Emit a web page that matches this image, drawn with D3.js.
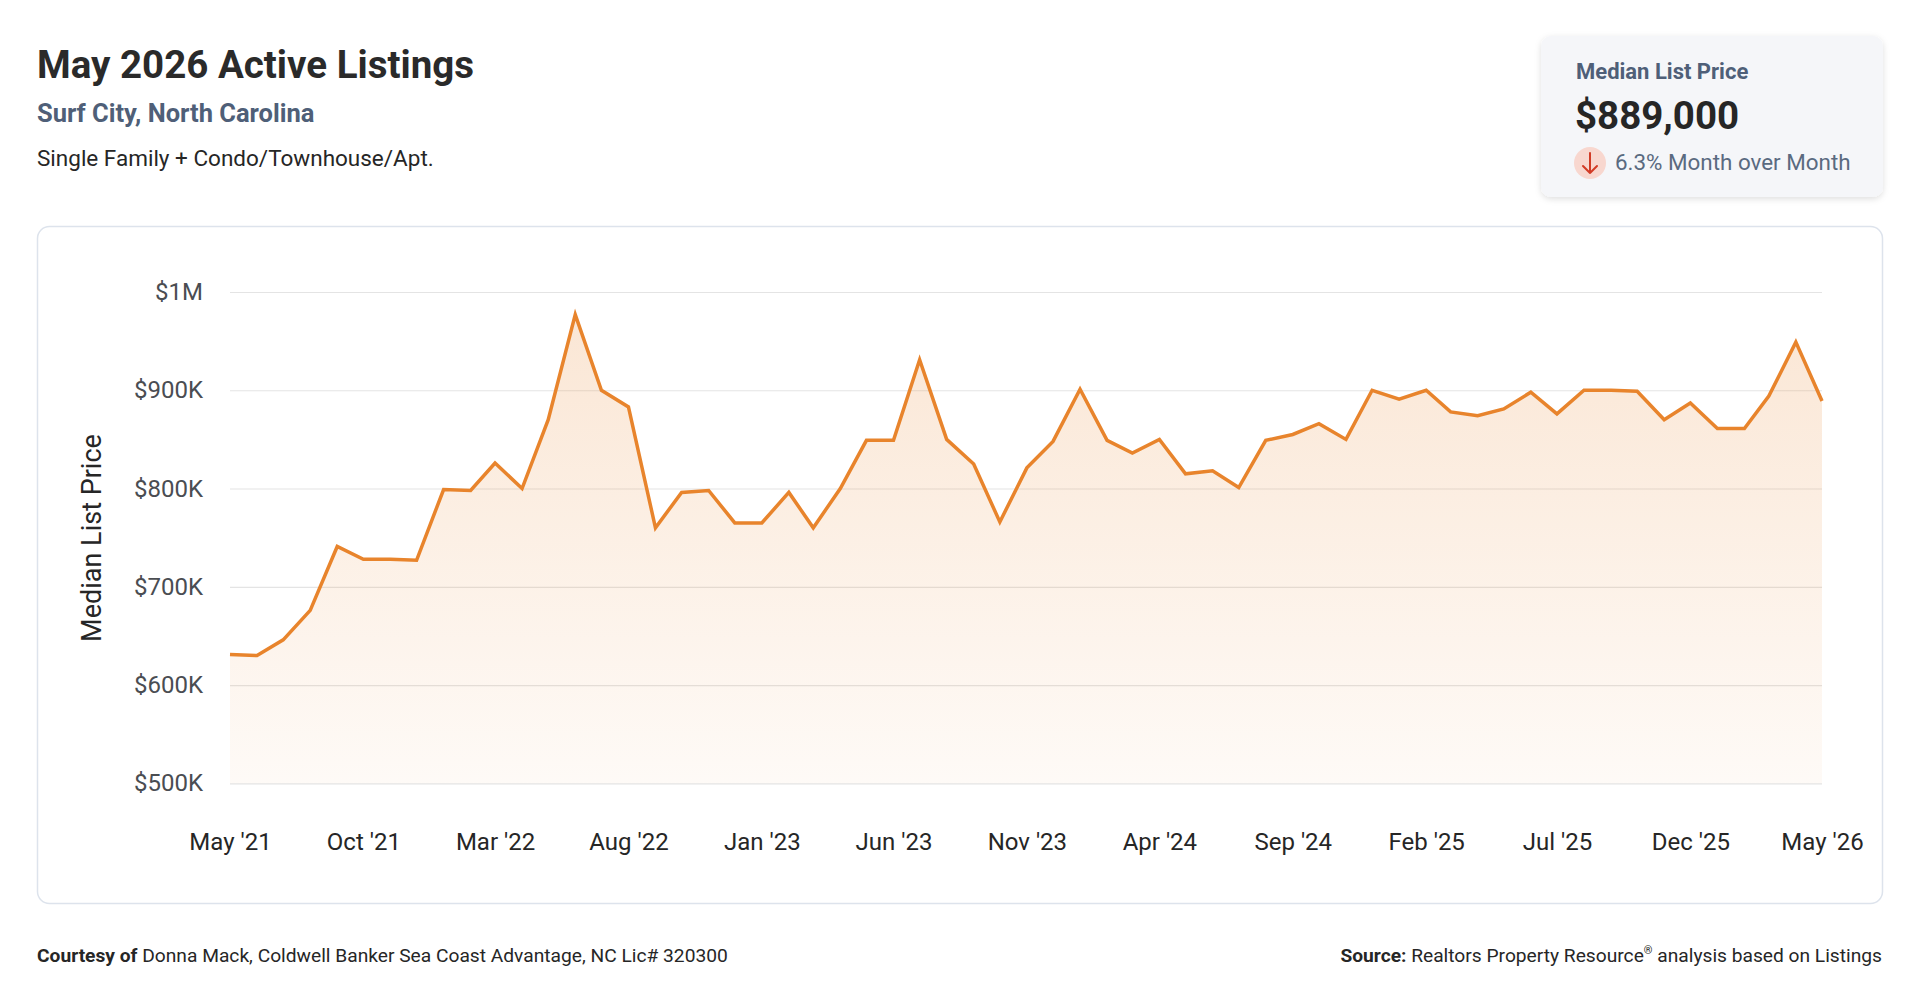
<!DOCTYPE html>
<html>
<head>
<meta charset="utf-8">
<script src="https://cdn.jsdelivr.net/npm/d3@7"></script>
<style>
  html, body { margin: 0; padding: 0; background: #ffffff; }
  svg { display: block; font-family: Roboto, "Noto Sans", sans-serif; }
</style>
</head>
<body>
<script>
var width = 1920;
var height = 1008;
var lineColor = "#e8842c";
var textColor = "#262626";
var slateColor = "#4f5f78";

// data, first month May 2021, one value per month
var startMonth = new Date(2021, 4, 1);
var medianPrices = [
  631000, 630000, 646000, 676000, 741000, 728000, 728000, 727000, 799000, 798000,
  826000, 800000, 870000, 977000, 900000, 883000, 760000, 796000, 798000, 765000,
  765000, 796000, 760000, 800000, 849000, 849000, 931000, 850000, 825000, 766000,
  821000, 848000, 901000, 849000, 836000, 850000, 815000, 818000, 801000, 849000,
  855000, 866000, 850000, 900000, 891000, 900000, 878000, 874000, 881000, 898000,
  876000, 900000, 900000, 899000, 870000, 887000, 861000, 861000, 894000, 949000,
  889000
];
var xTickLabels = ["May '21", "Oct '21", "Mar '22", "Aug '22", "Jan '23", "Jun '23",
  "Nov '23", "Apr '24", "Sep '24", "Feb '25", "Jul '25", "Dec '25", "May '26"];
var yTickValues = [500000, 600000, 700000, 800000, 900000, 1000000];
var yTickLabels = ["$500K", "$600K", "$700K", "$800K", "$900K", "$1M"];

var data = medianPrices.map(function(v, i) {
  return { date: d3.timeMonth.offset(startMonth, i), value: v };
});
var xTickDates = xTickLabels.map(function(l, i) {
  return d3.timeMonth.offset(startMonth, i * 5);
});

var svg = d3.select("body").append("svg")
  .attr("width", width)
  .attr("height", height);

var defs = svg.append("defs");
var grad = defs.append("linearGradient")
  .attr("id", "areaFill")
  .attr("x1", 0).attr("y1", 0).attr("x2", 0).attr("y2", 1);
grad.append("stop").attr("offset", "0%").attr("stop-color", lineColor).attr("stop-opacity", 0.2);
grad.append("stop").attr("offset", "100%").attr("stop-color", lineColor).attr("stop-opacity", 0.04);

var shadow = defs.append("filter")
  .attr("id", "cardShadow")
  .attr("x", "-10%").attr("y", "-20%").attr("width", "120%").attr("height", "150%");
shadow.append("feDropShadow")
  .attr("dx", 0).attr("dy", 2).attr("stdDeviation", 3)
  .attr("flood-color", "#000").attr("flood-opacity", 0.13);

// header
svg.append("text")
  .attr("x", 37).attr("y", 78)
  .attr("font-size", 38.5).attr("font-weight", 700)
  .attr("fill", "#2a2a2a")
  .text("May 2026 Active Listings");
svg.append("text")
  .attr("x", 37).attr("y", 122)
  .attr("font-size", 25.5).attr("font-weight", 700)
  .attr("fill", slateColor)
  .text("Surf City, North Carolina");
svg.append("text")
  .attr("x", 37).attr("y", 166)
  .attr("font-size", 22.5)
  .attr("fill", textColor)
  .text("Single Family + Condo/Townhouse/Apt.");

// summary card
var card = svg.append("g");
card.append("rect")
  .attr("x", 1541).attr("y", 36)
  .attr("width", 342).attr("height", 161)
  .attr("rx", 10)
  .attr("fill", "#f5f6f9")
  .attr("filter", "url(#cardShadow)");
card.append("text")
  .attr("x", 1576).attr("y", 79)
  .attr("font-size", 22).attr("font-weight", 700)
  .attr("fill", slateColor)
  .text("Median List Price");
card.append("text")
  .attr("x", 1575).attr("y", 129)
  .attr("font-size", 38.5).attr("font-weight", 700)
  .attr("fill", "#262626")
  .text("$" + d3.format(",")(medianPrices[medianPrices.length - 1]));
card.append("circle")
  .attr("cx", 1590).attr("cy", 163).attr("r", 16)
  .attr("fill", "#f8d7cf");
card.append("path")
  .attr("d", "M1590,153 L1590,173 M1583,166 L1590,173 L1597,166")
  .attr("fill", "none")
  .attr("stroke", "#d23b26")
  .attr("stroke-width", 2)
  .attr("stroke-linecap", "round")
  .attr("stroke-linejoin", "round");
var last = medianPrices[medianPrices.length - 1];
var prev = medianPrices[medianPrices.length - 2];
card.append("text")
  .attr("x", 1615).attr("y", 170)
  .attr("font-size", 22.4)
  .attr("fill", "#5a6a80")
  .text(d3.format(".1%")(Math.abs(last - prev) / prev) + " Month over Month");

// chart frame
svg.append("rect")
  .attr("x", 37.5).attr("y", 226.5)
  .attr("width", 1845).attr("height", 677)
  .attr("rx", 12)
  .attr("fill", "#fff")
  .attr("stroke", "#dde3ec")
  .attr("stroke-width", 1.5);

var plotLeft = 230, plotRight = 1822, plotTop = 292, plotBottom = 783.3;

var x = d3.scaleTime()
  .domain(d3.extent(data, function(d) { return d.date; }))
  .range([plotLeft, plotRight]);
var y = d3.scaleLinear()
  .domain([500000, 1000000])
  .range([plotBottom, plotTop]);

// y axis + grid
var yAxis = svg.append("g")
  .attr("transform", "translate(" + plotLeft + ",0)")
  .call(d3.axisLeft(y)
    .tickValues(yTickValues)
    .tickSize(-(plotRight - plotLeft))
    .tickPadding(27)
    .tickFormat(function(d, i) { return yTickLabels[i]; }));
yAxis.select(".domain").remove();
yAxis.selectAll(".tick line")
  .attr("stroke", "#e4e4e4")
  .attr("stroke-width", 1.2);
yAxis.selectAll(".tick text")
  .attr("font-family", "Roboto")
  .attr("font-size", 24)
  .attr("fill", "#4a4d52");

// area + line
var area = d3.area()
  .x(function(d) { return x(d.date); })
  .y0(plotBottom)
  .y1(function(d) { return y(d.value); });
var line = d3.line()
  .x(function(d) { return x(d.date); })
  .y(function(d) { return y(d.value); });

svg.append("path")
  .datum(data)
  .attr("d", area)
  .attr("fill", "url(#areaFill)");
svg.append("path")
  .datum(data)
  .attr("d", line)
  .attr("fill", "none")
  .attr("stroke", lineColor)
  .attr("stroke-width", 3.5)
  .attr("stroke-linejoin", "miter");

// x axis
var xAxis = svg.append("g")
  .attr("transform", "translate(0," + plotBottom + ")")
  .call(d3.axisBottom(x)
    .tickValues(xTickDates)
    .tickSize(0)
    .tickPadding(50)
    .tickFormat(function(d, i) { return xTickLabels[i]; }));
xAxis.select(".domain").remove();
xAxis.selectAll(".tick text")
  .attr("font-family", "Roboto")
  .attr("font-size", 24)
  .attr("fill", textColor);

// y axis title
svg.append("text")
  .attr("transform", "translate(101,538) rotate(-90)")
  .attr("text-anchor", "middle")
  .attr("font-size", 27)
  .attr("fill", textColor)
  .text("Median List Price");

// footer
var left = svg.append("text")
  .attr("x", 37).attr("y", 962)
  .attr("font-size", 19.2)
  .attr("fill", textColor);
left.append("tspan").attr("font-weight", 700).text("Courtesy of ");
left.append("tspan").text("Donna Mack, Coldwell Banker Sea Coast Advantage, NC Lic# 320300");

var right = svg.append("text")
  .attr("x", 1882).attr("y", 962)
  .attr("text-anchor", "end")
  .attr("font-size", 19.2)
  .attr("fill", textColor);
right.append("tspan").attr("font-weight", 700).text("Source: ");
right.append("tspan").text("Realtors Property Resource");
right.append("tspan").attr("font-size", 11).attr("dy", -8).text("®");
right.append("tspan").attr("dy", 8).text(" analysis based on Listings");
</script>
</body>
</html>
